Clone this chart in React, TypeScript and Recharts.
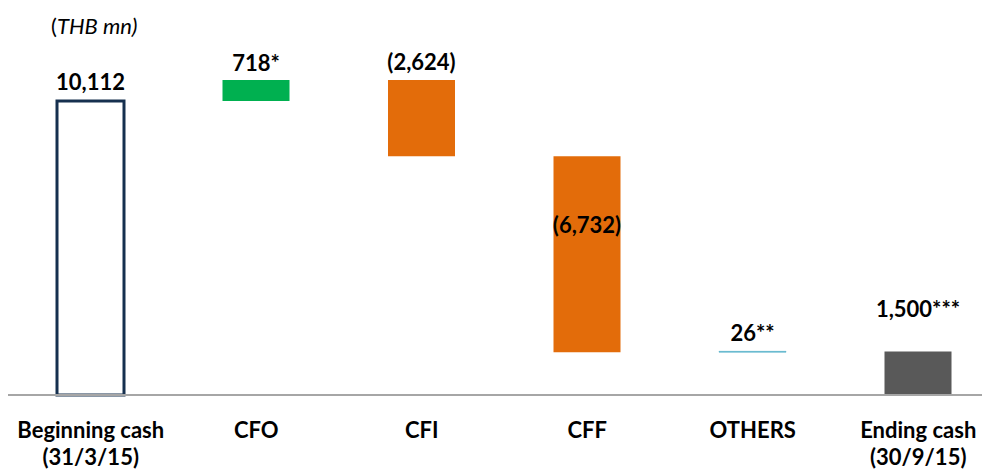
import { Bar, BarChart, Cell, LabelList, XAxis, YAxis } from "recharts";

const CATEGORIES = [
  "Beginning cash|(31/3/15)",
  "CFO",
  "CFI",
  "CFF",
  "OTHERS",
  "Ending cash|(30/9/15)",
];
// signed movements; first and last are totals
const VALUES = [10112, 718, -2624, -6732, 26, 1500];
const LABELS = ["10,112", "718*", "(2,624)", "(6,732)", "26**", "1,500***"];
const IS_TOTAL = [true, false, false, false, false, true];

const FILLS = ["#FFFFFF", "#00B050", "#E36C0A", "#E36C0A", "#4BACC6", "#595959"];
const STROKES = ["#16304F", "none", "none", "none", "#4BACC6", "none"];
// baseline shift of each value label from the top of its bar
const LABEL_SHIFT = [-11, -9, -10, 77, -10, -34];

const FONT = "Lato, 'Open Sans', sans-serif";

function buildRows() {
  let running = 0;
  return CATEGORIES.map((name, i) => {
    const v = VALUES[i];
    let base: number;
    let delta: number;
    if (IS_TOTAL[i]) {
      base = 0;
      delta = v;
      running = v;
    } else if (v >= 0) {
      base = running;
      delta = v;
      running += v;
    } else {
      running += v;
      base = running;
      delta = -v;
    }
    return { name, base, delta, label: LABELS[i], idx: i };
  });
}

const rows = buildRows();

function CategoryTick(props: any) {
  const { x, y, payload } = props;
  const lines = String(payload.value).split("|");
  return (
    <text
      x={x}
      y={y}
      textAnchor="middle"
      fontFamily={FONT}
      fontWeight={700}
      fontSize={22}
      fill="#000"
    >
      {lines.map((line, i) => (
        <tspan key={i} x={x} dy={i === 0 ? 35 : 27}>
          {line}
        </tspan>
      ))}
    </text>
  );
}

function ValueLabel(props: any) {
  const { x, y, width, value, index } = props;
  const shift = LABEL_SHIFT[index] ?? -10;
  return (
    <text
      x={x + width / 2}
      y={y + shift}
      textAnchor="middle"
      fontFamily={FONT}
      fontWeight={700}
      fontSize={22}
      fill="#000"
    >
      {value}
    </text>
  );
}

export default function App() {
  return (
    <div style={{ position: "relative", width: 982, height: 464, overflow: "hidden" }}>
      <div
        style={{
          position: "absolute",
          left: 43,
          top: 4,
          fontFamily: FONT,
          fontSize: 22,
          color: "#000",
        }}
      >
        (<i>THB mn)</i>
      </div>
      <BarChart
        width={993}
        height={464}
        data={rows}
        margin={{ top: 38, right: 0, left: 0, bottom: 0 }}
      >
        <XAxis
          dataKey="name"
          height={77}
          interval={0}
          tickLine={false}
          axisLine={{ stroke: "#A6A6A6", strokeWidth: 2 }}
          tick={<CategoryTick />}
        />
        <YAxis hide domain={[0, 12000]} />
        <Bar dataKey="base" stackId="w" fill="transparent" barSize={67} isAnimationActive={false} />
        <Bar dataKey="delta" stackId="w" barSize={67} isAnimationActive={false}>
          {rows.map((r, i) => (
            <Cell
              key={r.name}
              fill={FILLS[i]}
              stroke={STROKES[i]}
              strokeWidth={i === 0 ? 3 : 0.6}
            />
          ))}
          <LabelList dataKey="label" content={<ValueLabel />} />
        </Bar>
      </BarChart>
    </div>
  );
}
